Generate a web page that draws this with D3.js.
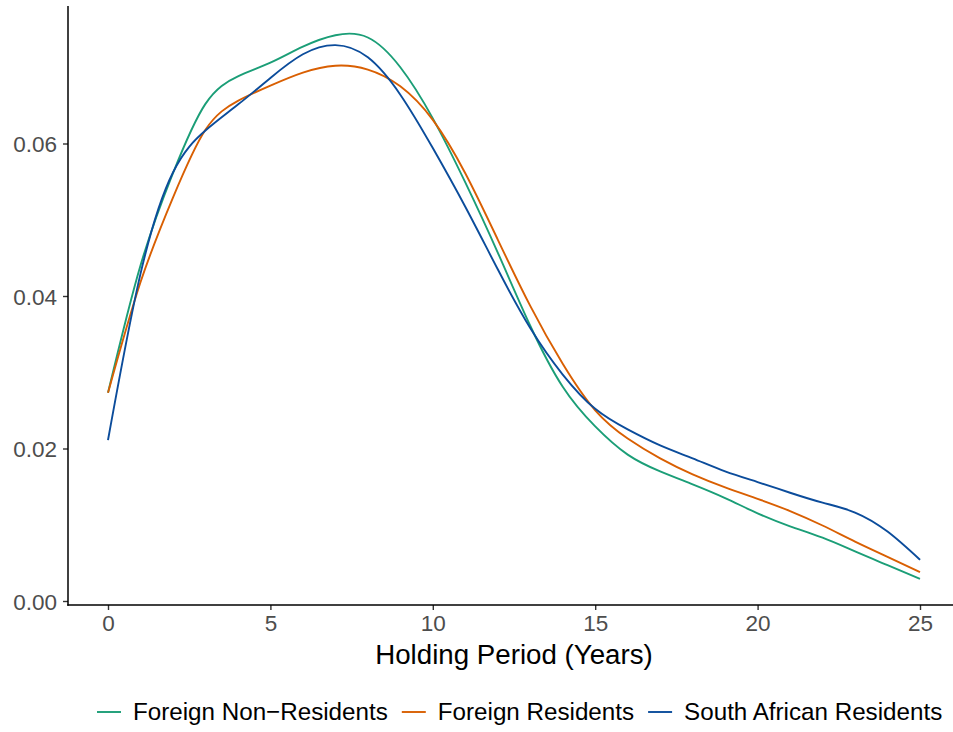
<!DOCTYPE html>
<html>
<head>
<meta charset="utf-8">
<script src="https://cdn.jsdelivr.net/npm/d3@7"></script>
<style>
  html, body { margin: 0; padding: 0; background: #fff; }
  svg { display: block; font-family: "Liberation Sans", Arial, Helvetica, sans-serif; }
</style>
</head>
<body>
<svg id="chart" width="953" height="732"></svg>
<script>
// Holding period (years) at which each density is sampled
const years = [0,1,2,3,4,5,6,7,8,9,10,11,12,13,14,15,16,17,18,19,20,21,22,23,24,25];

// Density estimates per investor group
const foreignNonResidents = [0.0273,0.0440,0.0561,0.0652,0.0688,0.0706,0.0727,0.0742,0.0739,0.0700,0.0633,0.0549,0.0457,0.0361,0.0281,0.0229,0.0192,0.0170,0.0153,0.0135,0.0115,0.0098,0.0083,0.0065,0.0047,0.0029];
const foreignResidents    = [0.0273,0.0418,0.0529,0.0618,0.0656,0.0676,0.0693,0.0702,0.0697,0.0675,0.0631,0.0561,0.0474,0.0387,0.0311,0.0250,0.0213,0.0187,0.0166,0.0149,0.0134,0.0118,0.0099,0.0078,0.0058,0.0038];
const southAfricanResidents = [0.0211,0.0429,0.0562,0.0617,0.0651,0.0686,0.0717,0.0729,0.0713,0.0664,0.0594,0.0517,0.0435,0.0358,0.0297,0.0252,0.0225,0.0204,0.0187,0.0170,0.0156,0.0142,0.0129,0.0116,0.0091,0.0054];

const seriesNames = ["Foreign Non\u2212Residents", "Foreign Residents", "South African Residents"];
const seriesColors = ["#1B9E77", "#D95F02", "#0B4C9B"];
const xTicks = [0, 5, 10, 15, 20, 25];
const yTicks = [0, 0.02, 0.04, 0.06];
const xTitle = "Holding Period (Years)";

const series = [foreignNonResidents, foreignResidents, southAfricanResidents].map((vals, i) => ({
  name: seriesNames[i],
  color: seriesColors[i],
  points: years.map((t, j) => ({ t, v: vals[j] }))
}));

const svg = d3.select("#chart");

// Panel bounds
const panel = { left: 68, right: 953, top: 6, bottom: 605 };

const x = d3.scaleLinear().domain([0, 25]).range([108, 920]);
const y = d3.scaleLinear().domain([0, 0.06]).range([601, 143.5]);

// Density curves, smoothed with a natural cubic spline
const line = d3.line()
  .x(d => x(d.t))
  .y(d => y(d.v))
  .curve(d3.curveNatural);

svg.append("g")
  .selectAll("path")
  .data(series)
  .join("path")
  .attr("d", d => line(d.points))
  .attr("fill", "none")
  .attr("stroke", d => d.color)
  .attr("stroke-width", 1.9)
  .attr("stroke-linejoin", "round");

// Axes
const xAxis = svg.append("g")
  .attr("transform", `translate(0,${panel.bottom})`)
  .call(d3.axisBottom(x).tickValues(xTicks).tickFormat(d3.format("d")).tickSize(5).tickPadding(5));
xAxis.select(".domain").remove();
xAxis.selectAll(".tick line").attr("stroke", "#333").attr("stroke-width", 1.4);
xAxis.selectAll(".tick text")
  .attr("fill", "#4D4D4D")
  .style("font-size", "22.5px")
  .style("font-family", "'Liberation Sans', Arial, sans-serif");

const yAxis = svg.append("g")
  .attr("transform", `translate(${panel.left},0)`)
  .call(d3.axisLeft(y).tickValues(yTicks).tickFormat(d3.format(".2f")).tickSize(5).tickPadding(6));
yAxis.select(".domain").remove();
yAxis.selectAll(".tick line").attr("stroke", "#333").attr("stroke-width", 1.4);
yAxis.selectAll(".tick text")
  .attr("fill", "#4D4D4D")
  .attr("dy", "0.36em")
  .style("font-size", "22.5px")
  .style("font-family", "'Liberation Sans', Arial, sans-serif");

// Axis lines
svg.append("line")
  .attr("x1", panel.left).attr("x2", panel.left)
  .attr("y1", panel.top).attr("y2", panel.bottom + 0.7)
  .attr("stroke", "#000").attr("stroke-width", 1.5);
svg.append("line")
  .attr("x1", panel.left - 0.7).attr("x2", panel.right)
  .attr("y1", panel.bottom).attr("y2", panel.bottom)
  .attr("stroke", "#000").attr("stroke-width", 1.5);

// Axis title
svg.append("text")
  .attr("x", 514)
  .attr("y", 664)
  .attr("text-anchor", "middle")
  .attr("fill", "#000")
  .style("font-size", "27.7px")
  .text(xTitle);

// Legend
const legend = svg.append("g");
let lx = 97;
series.forEach((s, i) => {
  legend.append("line")
    .attr("x1", lx).attr("x2", lx + 24)
    .attr("y1", 712).attr("y2", 712)
    .attr("stroke", s.color).attr("stroke-width", 1.9);
  const t = legend.append("text")
    .attr("x", lx + 36)
    .attr("y", 720)
    .attr("fill", "#000")
    .style("font-size", "24.2px")
    .text(s.name);
  lx = lx + 36 + t.node().getComputedTextLength() + 14;
});
</script>
</body>
</html>
